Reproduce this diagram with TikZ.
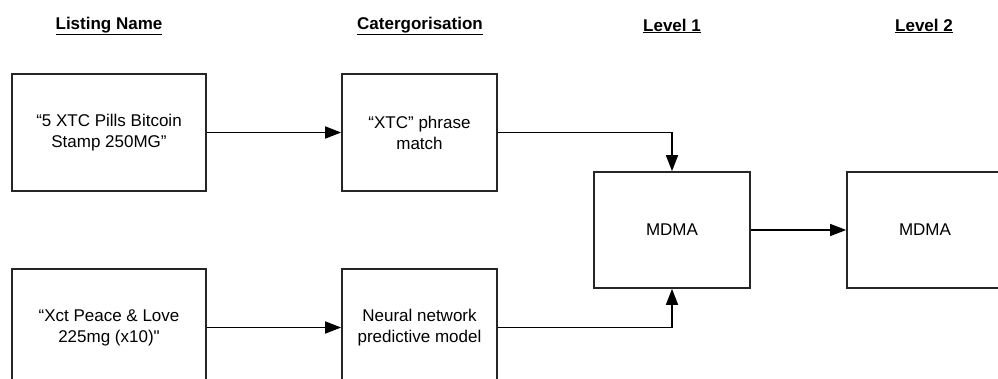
\documentclass[tikz,border=0pt]{standalone}
\usepackage{fontspec}
\newfontfamily\boxfont{Liberation Sans}
\usetikzlibrary{arrows.meta}
\colorlet{boxline}{black!85}

\begin{document}
\begin{tikzpicture}[x=1pt,y=-1pt,font=\boxfont\fontsize{17}{21}\selectfont]
\tikzset{listbox/.style={draw=boxline, line width=1.7pt, minimum width=194pt,
    minimum height=117pt, align=center, inner sep=0},
  catbox/.style={listbox, minimum width=155pt},
  levelbox/.style={listbox, minimum width=156pt, minimum height=116pt},
  heading/.style={font=\boxfont\bfseries\fontsize{17}{20}\selectfont},
  flow/.style={-{Triangle[length=16pt,width=12pt]}, line width=1.7pt},
  thinflow/.style={flow, line width=1.2pt}}
\useasboundingbox (0,0) rectangle (998,379);
% headings
\node[heading] (hlist) at (109,26) {\underline{Listing Name}};
\node[heading] (hcat) at (420,26) {\underline{Catergorisation}};
\node[heading] (hone) at (672,26) {\underline{Level 1}};
\node[heading] (htwo) at (924,26) {\underline{Level 2}};
% boxes
\node[listbox] (pills) at (109,132.5) {“5 XTC Pills Bitcoin\\Stamp 250MG”};
\node[catbox] (xtc) at (419.5,132.5) {“XTC” phrase\\match};
\node[listbox] (peace) at (109,327.5) {“Xct Peace \& Love\\225mg (x10)"};
\node[catbox] (neural) at (419.5,327.5) {Neural network\\predictive model};
\node[levelbox] (lvlone) at (672,230) {MDMA};
\node[levelbox] (lvltwo) at (925,230) {MDMA};
% connectors
\draw[flow] (pills) -- (xtc);
\draw[flow] (peace) -- (neural);
\draw[flow] (xtc.east) -| (lvlone.north);
\draw[flow] (neural.east) -| (lvlone.south);
\draw[thinflow] (lvlone) -- (lvltwo);
\end{tikzpicture}
\end{document}
